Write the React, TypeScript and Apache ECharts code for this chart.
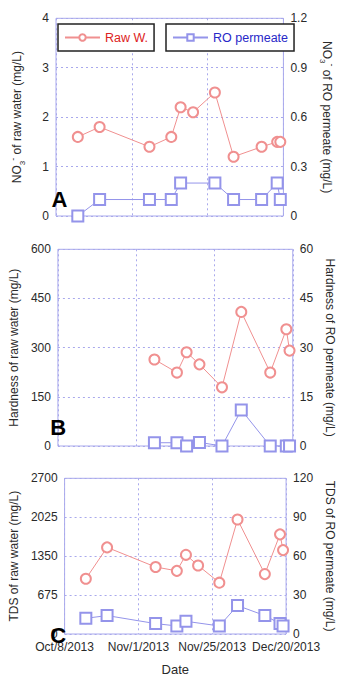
import React, { useEffect, useRef } from "react";
import * as echarts from "echarts";

// ---- data ----
const sampleDates = [
  "2013-10-15", "2013-10-22", "2013-11-07", "2013-11-14", "2013-11-17", "2013-11-21",
  "2013-11-28", "2013-12-04", "2013-12-13", "2013-12-18", "2013-12-19",
];
const xTickLabels = ["Oct/8/2013", "Nov/1/2013", "Nov/25/2013", "Dec/20/2013"];

const no3Raw = [1.6, 1.8, 1.4, 1.6, 2.2, 2.1, 2.5, 1.2, 1.4, 1.5, 1.5];
const no3RO = [0, 0.1, 0.1, 0.1, 0.2, null, 0.2, 0.1, 0.1, 0.2, 0.1];
const hardRaw = [null, null, 264, 224, 286, 249, 179, 409, 224, 356, 291];
const hardRO = [null, null, 1.0, 1.0, 0, 1.1, 0, 11.0, 0, 0, 0];
const tdsRaw = [957, 1502, 1162, 1095, 1373, 1188, 890, 1985, 1039, 1728, 1455];
const tdsRO = [12.1, 14.2, 8.0, 6.2, 9.8, null, 6.2, 21.9, 14.2, 8.0, 6.2];

const leftTicksA = [0, 4, 1];
const rightTicksA = [0, 1.2, 0.3];
const leftTicksB = [0, 600, 150];
const rightTicksB = [0, 60, 15];
const leftTicksC = [0, 2700, 675];
const rightTicksC = [0, 120, 30];

const panelLetters = ["A", "B", "C"];

// ---- helpers ----
const DAY0 = Date.UTC(2013, 9, 8);
const DAY_END = Date.UTC(2013, 11, 20);
const X_MAX = (DAY_END - DAY0) / 86400000;
const X_INTERVAL = X_MAX / (xTickLabels.length - 1);
const dayOf = (s: string) => {
  const [y, m, d] = s.split("-").map(Number);
  return (Date.UTC(y, m - 1, d) - DAY0) / 86400000;
};
const pairs = (vals: (number | null)[]) =>
  sampleDates
    .map((d, i) => [dayOf(d), vals[i]] as [number, number | null])
    .filter((p) => p[1] !== null);

const FONT = "Arial, 'Liberation Sans', sans-serif";
const FRAME = "#a9a9ec";
const TXT = "#2a2a2a";
const RAW_C = "#f09090";
const RO_C = "#9494ea";

const rich = {
  n: { fontSize: 12, color: TXT, lineHeight: 18, fontFamily: FONT },
  sub: { fontSize: 8, color: TXT, lineHeight: 18, verticalAlign: "bottom", fontFamily: FONT },
  sup: { fontSize: 9, color: TXT, lineHeight: 18, verticalAlign: "top", fontFamily: FONT },
};

export default function App() {
  const ref = useRef<HTMLDivElement>(null);
  useEffect(() => {
    if (!ref.current) return;
    const chart = echarts.init(ref.current, undefined, { renderer: "svg" });

    const grids = [
      { left: 48.7, right: 42.7, top: 18.3, height: 197.7 },
      { left: 45.7, right: 41, top: 249.3, height: 196.7 },
      { left: 45.7, right: 41, top: 478.3, height: 175 },
    ].map((g) => ({ ...g, show: true, borderColor: FRAME, borderWidth: 1 }));

    const xAxes = [0, 1, 2].map((i) => ({
      type: "value",
      gridIndex: i,
      min: 0,
      max: X_MAX,
      interval: X_INTERVAL,
      axisLine: { show: false },
      axisTick: { show: false },
      splitLine: { show: true, lineStyle: { color: FRAME, type: [2, 3], width: 1 } },
      axisLabel: {
        show: i === 2,
        color: TXT,
        fontSize: 12,
        lineHeight: 12,
        margin: 7,
        showMinLabel: true,
        showMaxLabel: true,
        formatter: (v: number) => xTickLabels[Math.round(v / X_INTERVAL)] ?? "",
      },
      name: i === 2 ? "Date" : "",
      nameLocation: "middle",
      nameGap: 29,
      nameTextStyle: { fontSize: 13, color: TXT },
    }));

    const leftNames = [
      "{n|NO}{sub|3}{sup|-}{n| of raw water (mg/L)}",
      "Hardness of raw water (mg/L)",
      "TDS of raw water (mg/L)",
    ];
    const rightNames = [
      "{n|NO}{sub|3}{sup|-}{n| of RO permeate (mg/L)}",
      "Hardness of RO permeate (mg/L)",
      "TDS of RO permeate (mg/L)",
    ];
    const leftTicks = [leftTicksA, leftTicksB, leftTicksC];
    const rightTicks = [rightTicksA, rightTicksB, rightTicksC];
    const plain = (v: number) => String(v);

    const yAxes: any[] = [];
    [0, 1, 2].forEach((i) => {
      yAxes.push({
        type: "value",
        gridIndex: i,
        position: "left",
        min: leftTicks[i][0],
        max: leftTicks[i][1],
        interval: leftTicks[i][2],
        axisLine: { show: false },
        axisTick: { show: false },
        splitLine: { show: true, lineStyle: { color: FRAME, type: [2, 3], width: 1 } },
        axisLabel: { color: TXT, fontSize: 12, lineHeight: 12, margin: 7, formatter: plain },
        name: leftNames[i],
        nameLocation: "middle",
        nameGap: i === 0 ? 30 : 34,
        nameTextStyle: { fontSize: 12, color: TXT, rich },
      });
      yAxes.push({
        type: "value",
        gridIndex: i,
        position: "right",
        min: rightTicks[i][0],
        max: rightTicks[i][1],
        interval: rightTicks[i][2],
        axisLine: { show: false },
        axisTick: { show: false },
        splitLine: { show: false },
        axisLabel: { color: TXT, fontSize: 12, lineHeight: 12, margin: 7, formatter: plain },
        name: rightNames[i],
        nameLocation: "middle",
        nameRotate: -90,
        nameGap: i === 0 ? 26 : 28,
        nameTextStyle: { fontSize: 12, color: TXT, rich },
      });
    });

    const rawSeries = [no3Raw, hardRaw, tdsRaw];
    const roSeries = [no3RO, hardRO, tdsRO];
    const series: any[] = [];
    [0, 1, 2].forEach((i) => {
      series.push({
        type: "line",
        name: "Raw W.",
        xAxisIndex: i,
        yAxisIndex: i * 2,
        data: pairs(rawSeries[i]),
        symbol: "emptyCircle",
        symbolSize: 10,
        lineStyle: { color: RAW_C, width: 1 },
        itemStyle: { color: RAW_C, borderColor: RAW_C, borderWidth: 0.7 },
      });
      series.push({
        type: "line",
        name: "RO permeate",
        xAxisIndex: i,
        yAxisIndex: i * 2 + 1,
        data: pairs(roSeries[i]),
        symbol: "emptyRect",
        symbolSize: 11,
        lineStyle: { color: RO_C, width: 1 },
        itemStyle: { color: RO_C, borderColor: RO_C, borderWidth: 0.7 },
      });
    });

    const legendBase = {
      top: 24,
      padding: [7, 6],
      itemWidth: 35,
      itemHeight: 8,
      borderColor: "#222",
      borderWidth: 1.5,
      backgroundColor: "#fff",
      selectedMode: false,
    };

    const letterPos = [
      [59.5, 199],
      [58.3, 427],
      [58.3, 635.5],
    ];

    chart.setOption({
      animation: false,
      textStyle: { fontFamily: FONT },
      grid: grids,
      xAxis: xAxes,
      yAxis: yAxes,
      series,
      legend: [
        { ...legendBase, left: 58, data: ["Raw W."], textStyle: { color: "#dd2222", fontSize: 12.5 } },
        { ...legendBase, left: 166, data: ["RO permeate"], textStyle: { color: "#2828c8", fontSize: 12.5 } },
      ],
      graphic: panelLetters.map((t, i) => ({
        type: "text",
        x: letterPos[i][0],
        y: letterPos[i][1],
        z: 10,
        style: {
          text: t,
          fill: "#000",
          font: `bold 22px ${FONT}`,
          lineHeight: 16,
          align: "center",
          verticalAlign: "middle",
          textAlign: "center",
          textVerticalAlign: "middle",
        },
      })),
    });
    return () => chart.dispose();
  }, []);
  return (
    <div
      ref={ref}
      style={{ position: "absolute", left: 0, top: 0, width: 344, height: 677, background: "#fff" }}
    />
  );
}
